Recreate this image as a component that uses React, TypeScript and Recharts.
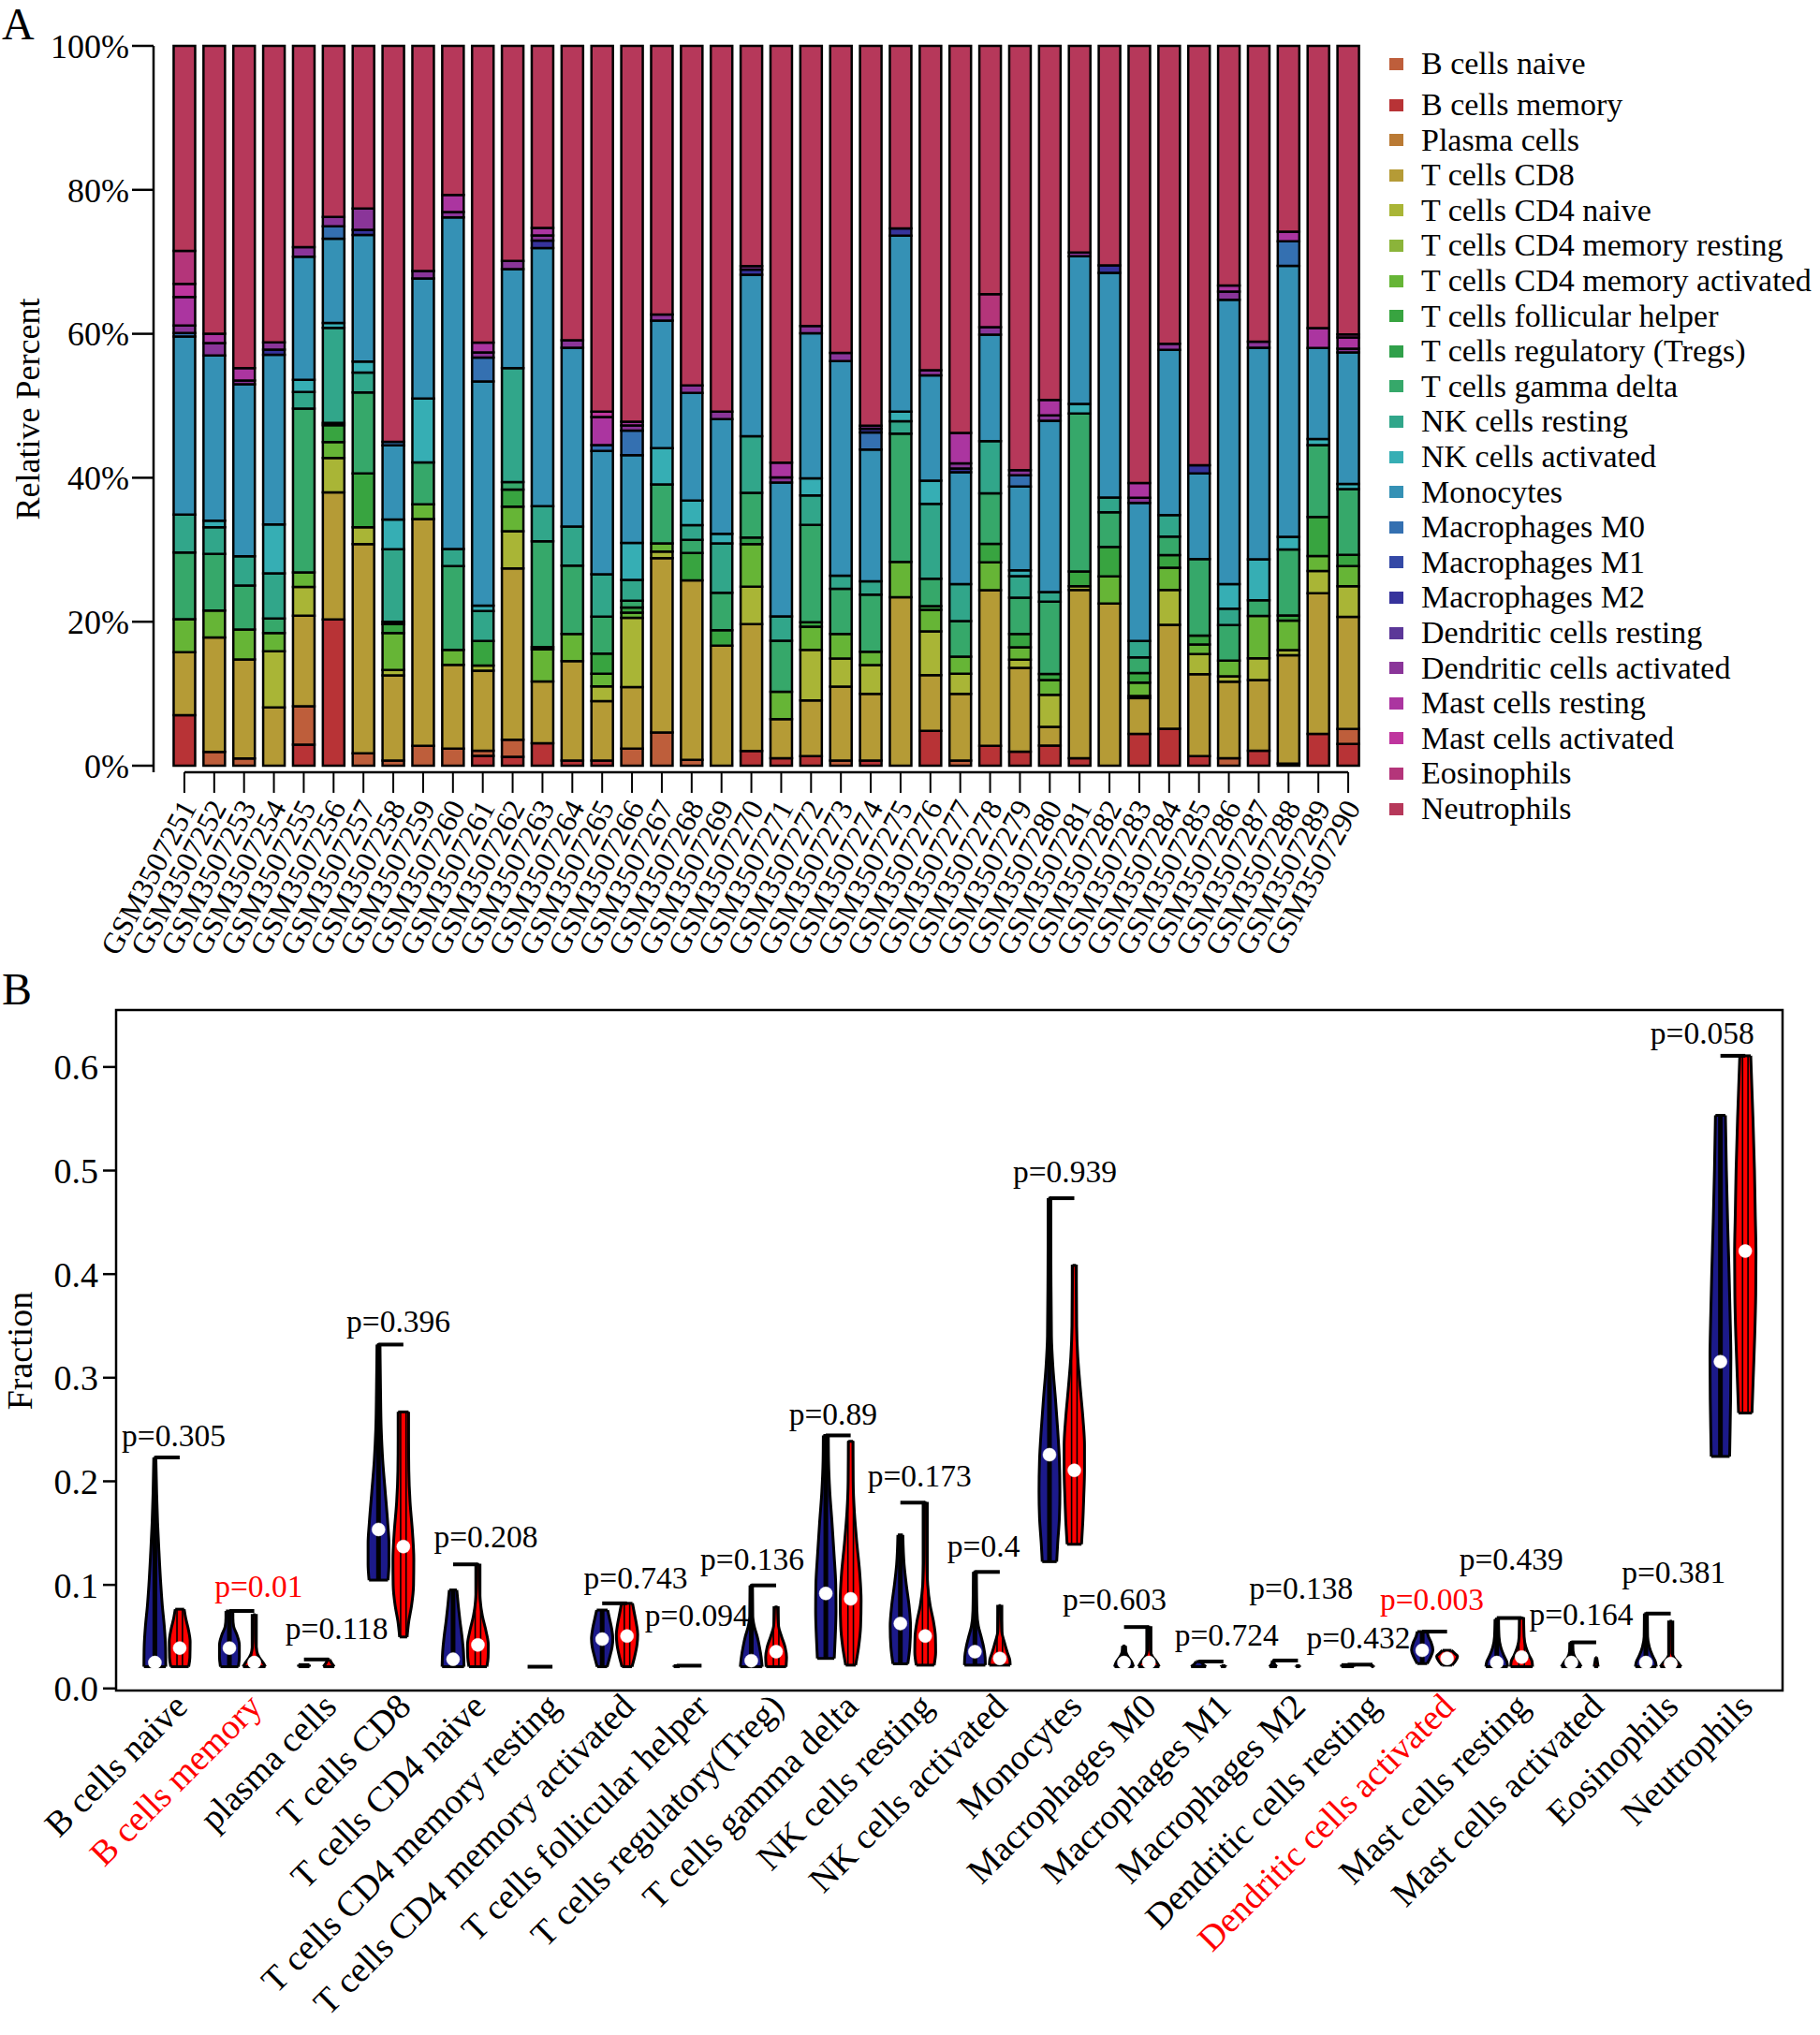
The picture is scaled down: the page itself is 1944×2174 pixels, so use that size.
import React from "react";
import {
  BarChart,
  Bar,
  XAxis,
  YAxis,
  ComposedChart,
  Area,
  ReferenceLine,
  ReferenceDot,
  ReferenceArea,
} from "recharts";

const FONT = '"Liberation Serif", "Times New Roman", Times, serif';

// ---------------------------------------------------------------------------
// Panel A data: CIBERSORT fractions (%) per sample, one array per cell type
// ---------------------------------------------------------------------------

const SAMPLES = [
  "GSM3507251", "GSM3507252", "GSM3507253", "GSM3507254", "GSM3507255",
  "GSM3507256", "GSM3507257", "GSM3507258", "GSM3507259", "GSM3507260",
  "GSM3507261", "GSM3507262", "GSM3507263", "GSM3507264", "GSM3507265",
  "GSM3507266", "GSM3507267", "GSM3507268", "GSM3507269", "GSM3507270",
  "GSM3507271", "GSM3507272", "GSM3507273", "GSM3507274", "GSM3507275",
  "GSM3507276", "GSM3507277", "GSM3507278", "GSM3507279", "GSM3507280",
  "GSM3507281", "GSM3507282", "GSM3507283", "GSM3507284", "GSM3507285",
  "GSM3507286", "GSM3507287", "GSM3507288", "GSM3507289", "GSM3507290",
];

const CELL_TYPES = [
  "B cells naive", "B cells memory", "Plasma cells", "T cells CD8",
  "T cells CD4 naive", "T cells CD4 memory resting", "T cells CD4 memory activated",
  "T cells follicular helper", "T cells regulatory (Tregs)", "T cells gamma delta",
  "NK cells resting", "NK cells activated", "Monocytes", "Macrophages M0",
  "Macrophages M1", "Macrophages M2", "Dendritic cells resting",
  "Dendritic cells activated", "Mast cells resting", "Mast cells activated",
  "Eosinophils", "Neutrophils",
];

const CELL_COLORS = [
  "#BE5E3B", "#B83336", "#BA7A34", "#B59B36", "#A9B536", "#8BB43A", "#66B536",
  "#38A440", "#30A04A", "#36A86A", "#31A68A", "#36AEB4", "#3591B5", "#3470B1",
  "#3449A6", "#36339C", "#5B3798", "#8A3599", "#AB35A0", "#BF359E", "#B4357A",
  "#B6385A",
];

const B_NAIVE = [0, 1.9, 1.0, 0, 5.3, 0, 1.7, 0.7, 2.7, 2.3, 0.7, 2.3, 0, 0, 0, 2.3, 4.5, 0.8, 0, 0, 0, 0, 0.7, 0, 0, 0, 0.7, 0, 0, 0, 0, 0, 0, 0, 0, 1, 0, 0.3, 0, 2];
const B_MEMORY = [6.9, 0, 0, 0, 2.9, 20, 0, 0, 0, 0, 1.3, 1.2, 3, 0.7, 0.7, 0, 0, 0, 0, 2, 1, 1.3, 0, 0.7, 0, 4.7, 0, 2.7, 1.9, 2.7, 1, 0, 4.3, 5, 1.3, 0, 2, 0, 4.3, 2.9];
const PLASMA = [0, 0, 0, 0, 0, 0, 0, 0, 0, 0, 0, 0, 0, 0, 0, 0, 0, 0, 0, 0, 0, 0, 0, 0, 0, 0, 0, 0, 0, 0, 0, 0, 0, 0, 0, 0, 0, 0, 0, 0];
const T_CD8 = [8.6, 15.8, 13.5, 8, 12.5, 17.4, 28.4, 11.5, 30.8, 11.3, 10.7, 23, 8.3, 13.5, 8, 8.3, 23.6, 24.3, 16.3, 17.3, 5.3, 7.5, 10, 9, 23, 7.5, 9, 21.2, 11.3, 2.5, 22.8, 22, 4.8, 14, 11, 10.3, 9.5, 14.6, 19, 15];
const T_CD4_NAIVE = [0, 0, 0, 7.7, 4, 4.7, 2.3, 0.7, 0, 0, 0.7, 5, 0, 0, 2, 9.3, 0.9, 0, 0, 5.1, 0, 6.8, 3.8, 3.9, 0, 5.9, 2.7, 0, 1.1, 4.3, 0.5, 0, 0.3, 4.7, 2.7, 0.7, 2.9, 0.7, 3, 4.1];
const T_CD4_MEM_RESTING = [0, 0, 0, 0, 0, 0, 0, 0, 0, 0, 0, 0, 0, 0, 0, 0, 0, 0, 0, 0, 0, 0, 0, 0, 0, 0, 0, 0, 0, 0, 0, 0, 0, 0, 0, 0, 0, 0, 0, 0];
const T_CD4_MEM_ACTIVATED = [4.5, 3.7, 4.1, 2.5, 2, 2.2, 0, 5, 2, 2, 0, 3.3, 4.3, 3.7, 1.7, 0.7, 1.1, 0, 0, 5.8, 3.7, 3.1, 3.3, 1.8, 4.8, 2.9, 2.3, 3.8, 1.7, 2, 0, 3.7, 1.8, 3, 1.3, 2.1, 5.7, 4, 2, 2.7];
const T_FH = [0, 0, 0, 0, 0, 2.3, 7.3, 1.2, 0, 0, 3.3, 2.3, 0, 0, 2.7, 0.7, 0, 3.7, 2.1, 0, 0, 0.6, 0, 0, 0, 0.5, 0, 2.5, 1.8, 0.8, 2, 4, 1.3, 1.7, 1.2, 0, 0, 0.7, 5.3, 1.5];
const T_REG = [0, 0, 0, 0, 0, 0, 0, 0, 0, 0, 0, 0, 0.3, 0, 0, 0, 0, 0, 0, 0.9, 0, 0, 0, 0, 0, 0, 0, 0, 0, 0, 0, 0, 0, 0, 0, 0, 0, 0, 0, 0];
const T_GD = [9.1, 7.8, 6, 2, 22.6, 0.3, 11, 0.3, 5.7, 11.3, 0, 1, 14.2, 9.3, 5, 0.9, 8, 1.8, 5.1, 6.1, 6.9, 13.1, 6.1, 7.7, 17.5, 3.7, 4.8, 6.9, 4.9, 9.7, 21.4, 4.7, 2.1, 2.5, 10.3, 4.8, 2.1, 8.9, 9.7, 8.8];
const NK_RESTING = [5.2, 3.7, 4, 6.2, 2.3, 13, 2.7, 9.8, 0, 2.3, 4, 15.3, 4.7, 5.3, 5.7, 2.8, 0, 2, 6.7, 7.7, 3.3, 4, 1.8, 1.8, 1.7, 10.1, 5, 7.1, 2.9, 1.3, 0, 2, 2.2, 2.9, 0, 2.2, 0, 0, 0, 0];
const NK_ACTIVATED = [0, 0.9, 0, 6.7, 1.7, 0.7, 1.5, 4, 8.7, 0, 0.7, 0, 0, 0, 0, 5, 4.9, 3.3, 1.3, 0, 0, 2.3, 0, 0, 1.3, 3.1, 0, 0, 0.8, 0, 1.3, 0, 0, 0, 0, 3.3, 5.5, 1.7, 0.8, 0.7];
const MONOCYTES = [24.3, 22.8, 23.5, 23.3, 17, 11.5, 17.2, 10, 16.3, 44.7, 30, 13.3, 34.6, 24.3, 16.6, 11.8, 17.3, 14.6, 15.6, 22, 18.1, 19.5, 29, 17.8, 24, 14.2, 15.1, 14.5, 11.3, 23, 20, 30.5, 18.6, 22.3, 11.5, 38.2, 28.4, 36.6, 12.3, 17.6];
const MACRO_M0 = [0.5, 0, 0, 0, 0, 1.7, 0, 0.5, 0, 0, 3.2, 0, 0, 0, 0.8, 3.3, 0, 0, 0, 0, 0, 0, 0, 2.3, 0, 0, 0, 0, 1.5, 0, 0, 0, 0, 0, 0, 0, 0, 3.3, 0, 0];
const MACRO_M1 = [0, 0, 0, 0, 0, 0, 0, 0, 0, 0, 0, 0, 0, 0, 0, 0, 0, 0, 0, 0, 0, 0, 0, 0, 0, 0, 0, 0, 0, 0, 0, 0, 0, 0, 0, 0, 0, 0, 0, 0];
const MACRO_M2 = [0, 0, 0, 0.7, 0, 0, 0.7, 0, 0, 0, 0, 0, 1, 0, 0, 0, 0, 0, 0, 0.7, 0, 0, 0, 0.5, 1, 0, 0.5, 0, 0, 0, 0, 1, 0, 0, 1.1, 0, 0, 0, 0, 0];
const DC_RESTING = [0, 0, 0, 0, 0, 0, 0, 0, 0, 0, 0, 0, 0, 0, 0, 0, 0, 0, 0, 0, 0, 0, 0, 0, 0, 0, 0, 0, 0, 0, 0, 0, 0, 0, 0, 0, 0, 0, 0, 0];
const DC_ACTIVATED = [1, 1.7, 0.5, 1, 1.3, 1.3, 2.9, 0, 1, 0.7, 0.7, 1.1, 0.7, 1, 0, 0.7, 0.8, 1, 1, 0.5, 0.7, 1, 1.1, 0.4, 0, 0.7, 0.7, 1, 0.7, 0.7, 0.5, 0, 0.7, 0.8, 0, 1.1, 0.8, 0, 0, 0.5];
const MAST_RESTING = [3.9, 1.3, 1.7, 0, 0, 0, 0, 0, 0, 2.3, 1.3, 0, 1, 0, 3.8, 0.5, 0, 0, 0, 0, 2, 0, 0, 0, 0, 0, 4.1, 0, 0, 2.1, 0, 0, 2, 0, 0, 0.8, 0, 1.3, 2.7, 1.5];
const MAST_ACTIVATED = [1.8, 0, 0, 0, 0, 0, 0, 0, 0, 0, 0, 0, 0, 0, 0.7, 0, 0, 0, 0, 0, 0, 0, 0, 0, 0, 0, 0, 0, 0, 0, 0, 0, 0, 0, 0, 0, 0, 0, 0, 0.4];
const EOSINOPHILS = [4.5, 0, 0, 0, 0, 0, 0, 0, 0, 0, 0, 0, 0, 0, 0, 0, 0, 0, 0, 0, 0, 0, 0, 0, 0, 0, 0, 4.5, 0, 0, 0, 0, 0, 0, 0, 0, 0, 0, 0, 0];
const NEUTROPHILS = [28, 39.7, 44, 40.7, 27.8, 23.4, 22.1, 53.4, 30.6, 20.1, 39.7, 28.9, 24.4, 40, 49.3, 50.6, 36.4, 46, 49.7, 30, 56.4, 37.7, 41.5, 51.3, 24.9, 43.7, 52.2, 33.8, 57.3, 47.5, 28, 29.8, 58.9, 40.2, 56.4, 32.2, 39.7, 25.1, 38.1, 38.6];

// same order as CELL_TYPES
const CELL_SERIES = [
  B_NAIVE, B_MEMORY, PLASMA, T_CD8, T_CD4_NAIVE, T_CD4_MEM_RESTING,
  T_CD4_MEM_ACTIVATED, T_FH, T_REG, T_GD, NK_RESTING, NK_ACTIVATED, MONOCYTES,
  MACRO_M0, MACRO_M1, MACRO_M2, DC_RESTING, DC_ACTIVATED, MAST_RESTING,
  MAST_ACTIVATED, EOSINOPHILS, NEUTROPHILS,
];

// memory B cells sit under naive B cells in the original stacks
const STACK_ORDER = [1, 0, 2, 3, 4, 5, 6, 7, 8, 9, 10, 11, 12, 13, 14, 15, 16, 17, 18, 19, 20, 21];

const PERCENT_TICKS = [0, 0.2, 0.4, 0.6, 0.8, 1];

// ---------------------------------------------------------------------------
// Panel B data: violin profiles [fraction, half width] for control / case
// ---------------------------------------------------------------------------

const VIOLIN_CATEGORIES = [
  "B cells naive", "B cells memory", "plasma cells", "T cells CD8",
  "T cells CD4 naive", "T cells CD4 memory resting", "T cells CD4 memory activated",
  "T cells follicular helper", "T cells regulatory(Treg)", "T cells gamma delta",
  "NK cells resting", "NK cells activated", "Monocytes", "Macrophages M0",
  "Macrophages M1", "Macrophages M2", "Dendritic cells resting",
  "Dendritic cells activated", "Mast cells resting", "Mast cells activated",
  "Eosinophils", "Neutrophils",
];

const P_VALUES = [
  "p=0.305", "p=0.01", "p=0.118", "p=0.396", "p=0.208", "", "p=0.743", "p=0.094",
  "p=0.136", "p=0.89", "p=0.173", "p=0.4", "p=0.939", "p=0.603", "p=0.724",
  "p=0.138", "p=0.432", "p=0.003", "p=0.439", "p=0.164", "p=0.381", "p=0.058",
];

const SIGNIFICANT = [
  false, true, false, false, false, false, false, false, false, false, false,
  false, false, false, false, false, false, true, false, false, false, false,
];

type Profile = [number, number][];

const CONTROL_VIOLINS: Profile[] = [
  [[0.021, 0.44], [0.04, 0.43], [0.06, 0.38], [0.08, 0.3], [0.1, 0.24], [0.13, 0.17], [0.16, 0.11], [0.19, 0.07], [0.223, 0.04]],
  [[0.021, 0.36], [0.03, 0.4], [0.042, 0.4], [0.052, 0.3], [0.06, 0.17], [0.068, 0.14], [0.0748, 0.14]],
  [[0.021, 0.22], [0.023, 0.22]],
  [[0.1046, 0.38], [0.12, 0.42], [0.14, 0.42], [0.16, 0.37], [0.19, 0.27], [0.22, 0.17], [0.25, 0.11], [0.29, 0.08], [0.332, 0.06]],
  [[0.021, 0.44], [0.035, 0.42], [0.05, 0.36], [0.065, 0.28], [0.08, 0.21], [0.0951, 0.15]],
  [],
  [[0.021, 0.2], [0.03, 0.3], [0.04, 0.4], [0.048, 0.43], [0.058, 0.38], [0.067, 0.3], [0.0757, 0.22]],
  [[0.021, 0.12], [0.022, 0.12]],
  [[0.021, 0.44], [0.03, 0.4], [0.04, 0.33], [0.05, 0.24], [0.06, 0.12], [0.07, 0.06], [0.0995, 0.05]],
  [[0.029, 0.34], [0.05, 0.38], [0.075, 0.41], [0.1, 0.4], [0.13, 0.33], [0.16, 0.25], [0.19, 0.16], [0.22, 0.11], [0.2443, 0.1]],
  [[0.0238, 0.3], [0.04, 0.38], [0.06, 0.41], [0.08, 0.35], [0.1, 0.24], [0.12, 0.15], [0.1483, 0.1]],
  [[0.0225, 0.42], [0.03, 0.41], [0.04, 0.35], [0.05, 0.25], [0.06, 0.14], [0.075, 0.08], [0.1125, 0.06]],
  [[0.1224, 0.29], [0.14, 0.33], [0.165, 0.4], [0.19, 0.42], [0.22, 0.4], [0.25, 0.33], [0.28, 0.24], [0.31, 0.14], [0.34, 0.08], [0.4, 0.06], [0.4733, 0.05]],
  [[0.021, 0.38], [0.026, 0.3], [0.03, 0.18], [0.035, 0.08], [0.041, 0.06]],
  [[0.021, 0.3], [0.024, 0.15], [0.026, 0.1]],
  [[0.021, 0.15], [0.024, 0.05], [0.027, 0.03]],
  [[0.021, 0.25], [0.023, 0.25]],
  [[0.024, 0.2], [0.03, 0.33], [0.037, 0.43], [0.045, 0.35], [0.05, 0.25], [0.0549, 0.2]],
  [[0.021, 0.44], [0.026, 0.4], [0.032, 0.28], [0.04, 0.16], [0.05, 0.09], [0.067, 0.07]],
  [[0.021, 0.4], [0.025, 0.3], [0.03, 0.15], [0.036, 0.07], [0.0445, 0.06]],
  [[0.021, 0.42], [0.026, 0.38], [0.032, 0.26], [0.04, 0.14], [0.05, 0.07], [0.0723, 0.06]],
  [[0.224, 0.37], [0.25, 0.39], [0.28, 0.41], [0.32, 0.42], [0.36, 0.39], [0.4, 0.35], [0.45, 0.29], [0.5, 0.24], [0.5533, 0.2]],
];

const CASE_VIOLINS: Profile[] = [
  [[0.021, 0.36], [0.03, 0.41], [0.045, 0.42], [0.058, 0.34], [0.068, 0.24], [0.0765, 0.18]],
  [[0.021, 0.45], [0.025, 0.35], [0.03, 0.2], [0.036, 0.1], [0.045, 0.06], [0.06, 0.05], [0.0712, 0.05]],
  [[0.021, 0.22], [0.025, 0.1], [0.028, 0.04]],
  [[0.0497, 0.15], [0.065, 0.22], [0.08, 0.33], [0.1, 0.41], [0.125, 0.42], [0.15, 0.37], [0.18, 0.27], [0.21, 0.22], [0.24, 0.21], [0.267, 0.21]],
  [[0.021, 0.36], [0.03, 0.41], [0.042, 0.42], [0.055, 0.33], [0.07, 0.18], [0.085, 0.09], [0.1, 0.06], [0.1198, 0.05]],
  [],
  [[0.021, 0.2], [0.03, 0.3], [0.042, 0.4], [0.052, 0.43], [0.062, 0.38], [0.072, 0.3], [0.0822, 0.22]],
  [],
  [[0.021, 0.4], [0.03, 0.42], [0.04, 0.36], [0.05, 0.22], [0.06, 0.1], [0.0787, 0.06]],
  [[0.0225, 0.2], [0.04, 0.32], [0.06, 0.4], [0.085, 0.42], [0.11, 0.37], [0.14, 0.25], [0.17, 0.15], [0.2, 0.1], [0.2386, 0.09]],
  [[0.0225, 0.36], [0.035, 0.42], [0.05, 0.41], [0.065, 0.33], [0.08, 0.2], [0.1, 0.1], [0.13, 0.06], [0.1794, 0.05]],
  [[0.0225, 0.42], [0.028, 0.4], [0.035, 0.3], [0.045, 0.18], [0.055, 0.08], [0.08, 0.05]],
  [[0.1392, 0.29], [0.16, 0.34], [0.185, 0.38], [0.21, 0.41], [0.235, 0.41], [0.26, 0.35], [0.29, 0.24], [0.32, 0.14], [0.35, 0.09], [0.4085, 0.07]],
  [[0.021, 0.42], [0.026, 0.3], [0.031, 0.14], [0.037, 0.06], [0.0593, 0.05]],
  [[0.021, 0.1], [0.022, 0.08]],
  [[0.021, 0.08], [0.022, 0.08]],
  [[0.021, 0.05], [0.022, 0.05]],
  [[0.0225, 0.2], [0.027, 0.35], [0.031, 0.42], [0.034, 0.3], [0.0368, 0.18]],
  [[0.021, 0.44], [0.026, 0.42], [0.032, 0.3], [0.04, 0.17], [0.05, 0.1], [0.068, 0.08]],
  [[0.021, 0.08], [0.03, 0.02]],
  [[0.021, 0.42], [0.025, 0.3], [0.029, 0.15], [0.034, 0.06], [0.0649, 0.05]],
  [[0.2659, 0.27], [0.3, 0.32], [0.34, 0.38], [0.38, 0.42], [0.42, 0.43], [0.46, 0.4], [0.5, 0.37], [0.55, 0.31], [0.6108, 0.22]],
];

const CONTROL_MEDIANS = [0.025, 0.039, null, 0.1535, 0.0282, null, 0.0476, null, 0.0268, 0.0917, 0.0627, 0.0355, 0.2257, 0.025, null, null, null, 0.0368, 0.025, 0.025, 0.025, 0.3155];
const CASE_MEDIANS = [0.039, 0.025, null, 0.137, 0.042, null, 0.0506, null, 0.0355, 0.0865, 0.0506, 0.029, 0.2106, 0.025, null, null, null, 0.029, 0.0303, null, 0.024, 0.4223];

const FRACTION_TICKS = [0, 0.1, 0.2, 0.3, 0.4, 0.5, 0.6];

// p-value text anchors (x in violin slots, y in fraction units)
const P_LABEL_ANCHOR: [number, number][] = [
  [1.76, 0.2335], [5.18, 0.0886], [8.32, 0.0476], [10.8, 0.3437], [14.32, 0.136],
  [0, 0], [20.35, 0.0965], [22.81, 0.0605], [25.04, 0.1146], [28.29, 0.255],
  [31.77, 0.1946], [34.35, 0.1276], [37.62, 0.4885], [39.62, 0.0757],
  [44.13, 0.041], [47.13, 0.0865], [49.43, 0.039], [52.39, 0.0757],
  [55.58, 0.1146], [58.4, 0.0614], [62.12, 0.1016], [63.27, 0.6224],
];

// ---------------------------------------------------------------------------
// Layout
// ---------------------------------------------------------------------------

const CONTROL_FILL = "#1C1A8A";
const CASE_FILL = "#FF0000";
const SLOT = 3; // control at 3i+1, case at 3i+2

function SampleTick({ x, y, payload }: any) {
  const ax = x + 4;
  const ay = y + 8;
  return (
    <text
      x={ax}
      y={ay}
      dy="0.35em"
      textAnchor="end"
      transform={`rotate(-62 ${ax} ${ay})`}
      fontSize={32}
      fontFamily={FONT}
      fill="#000"
    >
      {payload.value}
    </text>
  );
}

function CellTick({ x, y, payload }: any) {
  const idx = Math.round((payload.value - 1.5) / SLOT);
  const ax = x + 14;
  const ay = y + 2;
  return (
    <text
      x={ax}
      y={ay}
      dy="0.35em"
      textAnchor="end"
      transform={`rotate(-45 ${ax} ${ay})`}
      fontSize={38}
      fontFamily={FONT}
      fill={SIGNIFICANT[idx] ? "#FF0000" : "#000"}
    >
      {VIOLIN_CATEGORIES[idx]}
    </text>
  );
}

function violinParts(profile: Profile, center: number, fill: string, key: string, isCase: boolean) {
  if (profile.length === 0) return [];
  const [y0, w0] = profile[0];
  const [y1, w1] = profile[profile.length - 1];
  const parts: React.ReactNode[] = [
    <Area
      key={`${key}-area`}
      data={profile.map(([y, w]) => ({ y, span: [center - w, center + w] }))}
      dataKey="span"
      type="monotone"
      fill={fill}
      fillOpacity={1}
      stroke="#000"
      strokeWidth={3}
      dot={false}
      activeDot={false}
      isAnimationActive={false}
    />,
    <ReferenceLine
      key={`${key}-bot`}
      segment={[{ x: center - w0, y: y0 }, { x: center + w0, y: y0 }]}
      stroke="#000"
      strokeWidth={3}
    />,
    <ReferenceLine
      key={`${key}-top`}
      segment={[{ x: center - w1, y: y1 }, { x: center + w1, y: y1 }]}
      stroke="#000"
      strokeWidth={3}
    />,
  ];
  if (y1 - y0 > 0.01) {
    if (isCase) {
      parts.push(
        <ReferenceArea
          key={`${key}-box`}
          x1={center - 0.11}
          x2={center + 0.11}
          y1={y0}
          y2={y1}
          fill="none"
          stroke="#000"
          strokeWidth={1.6}
        />
      );
    } else {
      parts.push(
        <ReferenceLine
          key={`${key}-box`}
          segment={[{ x: center, y: y0 }, { x: center, y: y1 }]}
          stroke="#000"
          strokeWidth={5}
        />
      );
    }
  }
  return parts;
}

function LegendA() {
  return (
    <>
      {CELL_TYPES.map((name, i) => {
        const cy = i === 0 ? 68 : 112 + (i - 1) * 37.6;
        return (
          <div
            key={name}
            style={{
              position: "absolute",
              left: 1484,
              top: cy - 20,
              height: 40,
              display: "flex",
              alignItems: "center",
              whiteSpace: "nowrap",
            }}
          >
            <span
              style={{
                width: 15,
                height: 13,
                background: CELL_COLORS[i],
                display: "inline-block",
                marginRight: 19,
              }}
            />
            <span style={{ fontSize: 34, fontFamily: FONT, color: "#000", lineHeight: "40px" }}>
              {name}
            </span>
          </div>
        );
      })}
    </>
  );
}

export default function App() {
  const barData = SAMPLES.map((sample, i) => {
    const row: Record<string, number | string> = { sample };
    CELL_TYPES.forEach((c, j) => {
      row[c] = CELL_SERIES[j][i];
    });
    return row;
  });

  const catTicks = VIOLIN_CATEGORIES.map((_, i) => SLOT * i + 1.5);

  const violinNodes: React.ReactNode[] = [];
  const bracketNodes: React.ReactNode[] = [];
  const dotNodes: React.ReactNode[] = [];
  const labelNodes: React.ReactNode[] = [];

  VIOLIN_CATEGORIES.forEach((cat, i) => {
    const cx = SLOT * i + 1;
    const rx = SLOT * i + 2;
    const ctl = CONTROL_VIOLINS[i];
    const cas = CASE_VIOLINS[i];
    violinNodes.push(...violinParts(ctl, cx, CONTROL_FILL, `c${i}`, false));
    violinNodes.push(...violinParts(cas, rx, CASE_FILL, `r${i}`, true));

    const tops = [...ctl, ...cas].map((p) => p[0]);
    const by = tops.length ? Math.max(...tops) : 0.021;
    bracketNodes.push(
      <ReferenceLine
        key={`br${i}`}
        segment={[{ x: cx, y: by }, { x: rx, y: by }]}
        stroke="#000"
        strokeWidth={4}
      />
    );

    const mc = CONTROL_MEDIANS[i];
    const mr = CASE_MEDIANS[i];
    if (mc != null)
      dotNodes.push(<ReferenceDot key={`mc${i}`} x={cx} y={mc} r={7} fill="#fff" stroke="#fff" strokeWidth={0.5} />);
    if (mr != null)
      dotNodes.push(<ReferenceDot key={`mr${i}`} x={rx} y={mr} r={7} fill="#fff" stroke="#fff" strokeWidth={0.5} />);

    if (P_VALUES[i]) {
      const [lx, ly] = P_LABEL_ANCHOR[i];
      labelNodes.push(
        <ReferenceDot
          key={`p${i}`}
          x={lx}
          y={ly}
          r={1}
          shape={(props: any) => (
            <text
              x={props.cx}
              y={props.cy}
              textAnchor="middle"
              fontSize={33.5}
              fontFamily={FONT}
              fill={SIGNIFICANT[i] ? "#FF0000" : "#000"}
            >
              {P_VALUES[i]}
            </text>
          )}
        />
      );
    }
  });

  return (
    <div
      style={{
        position: "absolute",
        left: 0,
        top: 0,
        width: 1944,
        height: 2174,
        background: "#fff",
        overflow: "hidden",
        fontFamily: FONT,
      }}
    >
      {/* Panel A */}
      <div style={{ position: "absolute", left: 0, top: 0 }}>
        <BarChart
          width={1944}
          height={1060}
          data={barData}
          stackOffset="expand"
          barCategoryGap="14%"
          margin={{ top: 49, right: 488, bottom: 0, left: 0 }}
        >
          <XAxis
            dataKey="sample"
            height={235}
            interval={0}
            padding={{ left: 17, right: 0 }}
            tickSize={22}
            axisLine={false}
            tickLine={{ stroke: "#000", strokeWidth: 2 }}
            tick={(p: any) => <SampleTick {...p} />}
          />
          <YAxis
            width={164}
            domain={[0, 1]}
            ticks={PERCENT_TICKS}
            interval={0}
            padding={{ top: 0, bottom: 7 }}
            tickFormatter={(v: number) => `${Math.round(v * 100)}%`}
            tickSize={23}
            tickMargin={3}
            axisLine={{ stroke: "#000", strokeWidth: 2.5 }}
            tickLine={{ stroke: "#000", strokeWidth: 2.5 }}
            tick={{ fontSize: 36, fill: "#000", fontFamily: FONT }}
          />
          {STACK_ORDER.map((j) => (
            <Bar
              key={CELL_TYPES[j]}
              dataKey={CELL_TYPES[j]}
              stackId="a"
              fill={CELL_COLORS[j]}
              stroke="#000"
              strokeWidth={2.5}
              isAnimationActive={false}
            />
          ))}
          <ReferenceLine
            segment={[
              { x: SAMPLES[0], y: -0.009 },
              { x: SAMPLES[SAMPLES.length - 1], y: -0.009 },
            ]}
            ifOverflow="visible"
            stroke="#000"
            strokeWidth={2.5}
          />
        </BarChart>
      </div>
      <LegendA />

      {/* Panel B */}
      <div style={{ position: "absolute", left: 0, top: 1040 }}>
        <ComposedChart
          layout="vertical"
          width={1944}
          height={1134}
          margin={{ top: 39, right: 40, bottom: 0, left: 0 }}
        >
          <XAxis
            type="number"
            domain={[-0.56, 66.5]}
            allowDataOverflow
            ticks={catTicks}
            interval={0}
            height={368}
            axisLine={false}
            tickLine={false}
            tick={(p: any) => <CellTick {...p} />}
          />
          <YAxis
            type="number"
            dataKey="y"
            reversed
            domain={[-0.002, 0.655]}
            allowDataOverflow
            ticks={FRACTION_TICKS}
            interval={0}
            width={124}
            tickSize={14}
            tickMargin={5}
            tickFormatter={(v: number) => v.toFixed(1)}
            axisLine={false}
            tickLine={{ stroke: "#000", strokeWidth: 2.5 }}
            tick={{ fontSize: 38, fill: "#000", fontFamily: FONT }}
          />
          <ReferenceArea
            x1={-0.56}
            x2={66.5}
            y1={-0.002}
            y2={0.655}
            fill="none"
            stroke="#000"
            strokeWidth={2.5}
            ifOverflow="visible"
          />
          {violinNodes}
          {bracketNodes}
          {dotNodes}
          {labelNodes}
        </ComposedChart>
      </div>

      {/* Panel letters and axis titles */}
      <svg
        width={1944}
        height={2174}
        style={{ position: "absolute", left: 0, top: 0, pointerEvents: "none" }}
      >
        <text x={2} y={42} fontSize={48} fontFamily={FONT} fill="#000">A</text>
        <text x={2} y={1073} fontSize={48} fontFamily={FONT} fill="#000">B</text>
        <text
          x={42}
          y={437}
          fontSize={36}
          fontFamily={FONT}
          fill="#000"
          textAnchor="middle"
          transform="rotate(-90 42 437)"
        >
          Relative Percent
        </text>
        <text
          x={34}
          y={1443}
          fontSize={38}
          fontFamily={FONT}
          fill="#000"
          textAnchor="middle"
          transform="rotate(-90 34 1443)"
        >
          Fraction
        </text>
      </svg>
    </div>
  );
}
